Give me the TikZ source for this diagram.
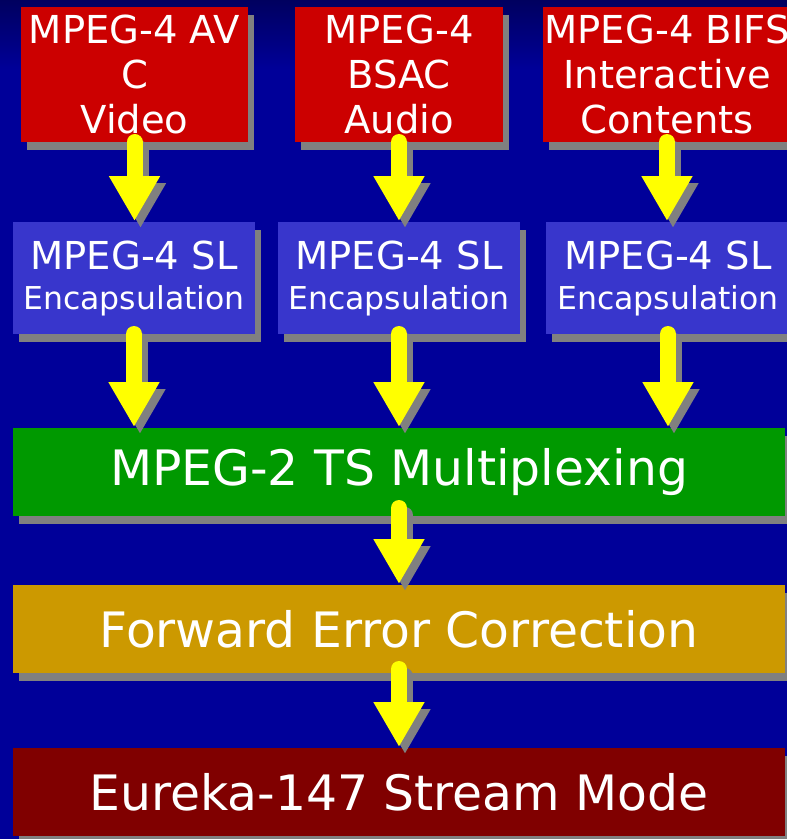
\documentclass[tikz,border=0pt]{standalone}
\usepackage{fontspec}
\setmainfont{DejaVu Sans}
\usetikzlibrary{arrows.meta,shadows}
\definecolor{bg}{RGB}{0,0,153}
\definecolor{bgtop}{RGB}{0,0,95}
\definecolor{boxred}{RGB}{204,0,0}
\definecolor{boxblue}{RGB}{56,54,204}
\definecolor{boxgreen}{RGB}{0,153,0}
\definecolor{boxgold}{RGB}{204,153,0}
\definecolor{boxmaroon}{RGB}{128,0,0}
\definecolor{shade}{RGB}{128,128,128}
\definecolor{arrowyellow}{RGB}{255,255,0}
\tikzset{
  blk/.style={fill=#1, inner sep=0pt, outer sep=0pt, anchor=north west, text=white, align=center,
    drop shadow={shadow xshift=6pt, shadow yshift=-8pt, fill=shade, opacity=1}},
  srcbox/.style={blk=boxred, minimum height=135pt, font=\fontsize{38.5}{45}\selectfont},
  slbox/.style={blk=boxblue, minimum height=112pt, font=\fontsize{31.5}{40}\selectfont},
  widebox/.style={blk=#1, minimum width=772pt, minimum height=88pt, font=\fontsize{48.8}{52}\selectfont},
  yarr/.style={line width=16pt, line cap=round, draw=arrowyellow, fill=arrowyellow, -{Triangle[width=48pt,length=45pt]}},
  sarr/.style={line width=16pt, line cap=round, draw=shade, fill=shade, -{Triangle[width=48pt,length=45pt]},
    transform canvas={xshift=6pt,yshift=-7pt}},
}
\begin{document}
\begin{tikzpicture}[x=1pt,y=-1pt]
\useasboundingbox (0,0) rectangle (787,839);
\clip (0,0) rectangle (787,839);
\fill[bg] (0,0) rectangle (787,839);
\shade[top color=bgtop, bottom color=bg] (0,0) rectangle (787,70);

% sources
\node[srcbox, minimum width=227pt] (r1) at (21,7) {MPEG-4 AV\\C\\Video};
\node[srcbox, minimum width=208pt] (r2) at (295,7) {MPEG-4\\BSAC\\Audio};
\node[srcbox, minimum width=248pt] (r3) at (543,7) {MPEG-4 BIFS\\Interactive\\Contents};

% SL encapsulation
\node[slbox, minimum width=242pt] (s1) at (13,222) {{\fontsize{38.5}{40}\selectfont MPEG-4 SL}\\Encapsulation};
\node[slbox, minimum width=242pt] (s2) at (278,222) {{\fontsize{38.5}{40}\selectfont MPEG-4 SL}\\Encapsulation};
\node[slbox, minimum width=244pt] (s3) at (546,222) {{\fontsize{38.5}{40}\selectfont MPEG-4 SL}\\Encapsulation};

% wide stages
\node[widebox=boxgreen] (g) at (13,428) {MPEG-2 TS Multiplexing};
\node[widebox=boxgold] (f) at (13,585) {Forward Error Correction};
\node[widebox=boxmaroon] (e) at (13,748) {Eureka-147 Stream Mode};

% arrow shadows
\foreach \a/\b in {r1/s1,r2/s2,r3/s3}{
  \draw[sarr] (\a.south) -- ([yshift=1pt]\a.south |- \b.north);
}
\foreach \a in {s1,s2,s3}{
  \draw[sarr] (\a.south) -- ([yshift=1pt]\a.south |- g.north);
}
\draw[sarr] ([yshift=8pt]g.south -| r2.south) -- ([yshift=1pt]r2.south |- f.north);
\draw[sarr] ([yshift=4pt]f.south -| r2.south) -- ([yshift=1pt]r2.south |- e.north);

% arrows
\foreach \a/\b in {r1/s1,r2/s2,r3/s3}{
  \draw[yarr] (\a.south) -- ([yshift=1pt]\a.south |- \b.north);
}
\foreach \a in {s1,s2,s3}{
  \draw[yarr] (\a.south) -- ([yshift=1pt]\a.south |- g.north);
}
\draw[yarr] ([yshift=8pt]g.south -| r2.south) -- ([yshift=1pt]r2.south |- f.north);
\draw[yarr] ([yshift=4pt]f.south -| r2.south) -- ([yshift=1pt]r2.south |- e.north);
\end{tikzpicture}
\end{document}
